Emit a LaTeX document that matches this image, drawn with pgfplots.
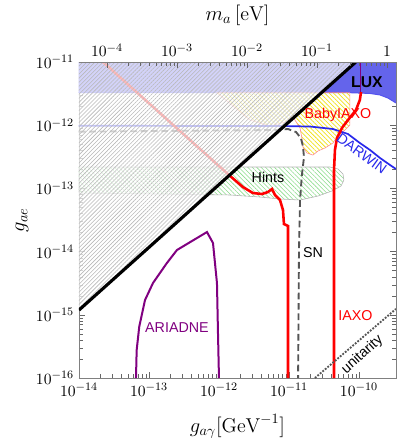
\documentclass[border=0pt]{standalone}
\usepackage{fontspec}
\setsansfont{Liberation Sans}
\usepackage{pgfplots}
\pgfplotsset{compat=1.18}
\usetikzlibrary{patterns.meta}

\definecolor{luxblue}{RGB}{100,100,235}
\definecolor{darwinblue}{RGB}{40,40,235}
\definecolor{sngray}{RGB}{85,85,85}
\definecolor{ariadne}{RGB}{128,0,128}
\definecolor{hintgreen}{RGB}{140,220,140}
\definecolor{babyyellow}{RGB}{240,225,30}

\tikzset{lbl/.style={font=\sffamily\fontsize{10}{12}\selectfont}}

\begin{document}
\begin{tikzpicture}
\pgfplotsset{
  every axis/.append style={
    scale only axis, width=221.9pt, height=221.2pt,
    axis line style={gray}, tick style={gray!80!black},
    ticklabel style={font=\fontsize{11}{13}\selectfont},
    label style={font=\fontsize{14}{16}\selectfont},
  },
}
\begin{axis}[
  xmode=log, ymode=log,
  xmin=1e-14, xmax=3.38e-10, ymin=1e-16, ymax=1e-11,
  xtick pos=bottom,
  xtick={1e-14,1e-13,1e-12,1e-11,1e-10},
  ytick={1e-16,1e-15,1e-14,1e-13,1e-12,1e-11},
  xlabel={$g_{a\gamma}[\mathrm{GeV}^{-1}]$},
  ylabel={$g_{ae}$},
  xlabel style={at={(axis description cs:0.5,0)}, anchor=center, yshift=-34pt},
  ylabel style={at={(axis description cs:0,0.5)}, anchor=center, yshift=39.9pt},
]
% LUX
\addplot[fill=luxblue, draw=none] coordinates {
  (1e-14,3.27e-12) (7.43e-11,3.27e-12) (1.44e-10,3.18e-12) (2.0e-10,3.01e-12)
  (2.6e-10,2.69e-12) (3.38e-10,2.25e-12) (3.38e-10,1e-11) (1e-14,1e-11)} -- cycle;
\addplot[darwinblue!80, line width=0.7pt] coordinates {
  (1e-14,3.27e-12) (7.43e-11,3.27e-12) (1.44e-10,3.18e-12) (2.0e-10,3.01e-12)
  (2.6e-10,2.69e-12) (3.38e-10,2.25e-12)};
% Hints
\addplot[draw=gray!60, line width=0.4pt,
  pattern={Lines[angle=-45,distance=2.2pt,line width=0.4pt]}, pattern color=hintgreen]
  coordinates {
  (1e-14,2.18e-13) (3.85e-11,2.18e-13) (5.01e-11,2.03e-13) (5.91e-11,1.69e-13)
  (6.1e-11,1.36e-13) (5.53e-11,1.09e-13) (4.11e-11,9.10e-14) (2.6e-11,7.58e-14)
  (1.44e-11,6.55e-14) (7.44e-12,6.80e-14) (3.85e-12,7.31e-14) (1.44e-12,7.87e-14)
  (1e-14,8.45e-14)} -- cycle;
% BabyIAXO
\addplot[draw=red!45, line width=0.4pt,
  pattern={Lines[angle=-45,distance=2.2pt,line width=0.5pt]}, pattern color=babyyellow]
  coordinates {
  (9.36e-13,3.27e-12) (2.77e-12,1.21e-12) (5.35e-12,9.70e-13) (8.77e-12,1.12e-12)
  (1.14e-11,1.35e-12) (1.44e-11,9.03e-13) (1.53e-11,6.27e-13) (1.58e-11,4.52e-13)
  (1.81e-11,3.63e-13) (2.20e-11,3.37e-13) (2.6e-11,3.91e-13) (3.27e-11,4.36e-13)
  (4.25e-11,5.23e-13) (4.85e-11,6.50e-13) (6.31e-11,8.40e-13) (7.43e-11,1.01e-12)
  (7.43e-11,3.27e-12)} -- cycle;
% DARWIN
\addplot[darwinblue, line width=1.2pt] coordinates {
  (1e-14,9.8e-13) (8.48e-12,9.70e-13) (2.0e-11,9.53e-13) (4.25e-11,8.71e-13)
  (6.97e-11,7.26e-13) (1.03e-10,5.23e-13) (1.44e-10,4.05e-13) (2.0e-10,3.03e-13)
  (2.77e-10,2.35e-13) (3.38e-10,2.03e-13)};
% SN
\addplot[sngray, line width=1.3pt, dash pattern=on 4.7pt off 2.5pt] coordinates {
  (1e-14,7.9e-13) (6.97e-12,8.40e-13) (9.68e-12,8.71e-13) (1.26e-11,7.80e-13)
  (1.48e-11,6.27e-13) (1.58e-11,4.69e-13) (1.64e-11,3.14e-13) (1.53e-11,1.63e-13)
  (1.44e-11,6.55e-14) (1.39e-11,1.06e-14) (1.35e-11,1e-16)};
% IAXO (low mass branch)
\addplot[red, line width=1.8pt] coordinates {
  (2.2e-14,1e-11) (1.39e-12,1.63e-13) (2.20e-12,1.05e-13) (3.06e-12,8.45e-14)
  (4.11e-12,8.15e-14) (5.01e-12,8.77e-14) (5.72e-12,9.79e-14) (6.31e-12,7.87e-14)
  (7.44e-12,6.55e-14) (8.21e-12,4.55e-14) (8.48e-12,2.73e-14) (9.68e-12,2.54e-14)
  (9.68e-12,1e-16)};
% IAXO (high mass branch)
\addplot[red, line width=1.8pt] coordinates {
  (1.07e-10,3.35e-12) (1.03e-10,2.51e-12) (9.06e-11,1.74e-12) (6.97e-11,1.21e-12)
  (5.71e-11,9.03e-13) (4.85e-11,6.27e-13) (4.54e-11,4.05e-13) (4.40e-11,1.95e-13)
  (4.40e-11,1e-16)};
\addplot[ariadne, line width=1.3pt] coordinates {(1.05e-10,1e-11) (1.05e-10,3.35e-12)};
% ARIADNE
\addplot[ariadne, line width=1.4pt] coordinates {
  (6.52e-14,1e-16) (6.67e-14,2.77e-16) (7.26e-14,6.49e-16) (8.77e-14,1.71e-15)
  (1.14e-13,3.18e-15) (1.79e-13,6.53e-15) (2.51e-13,1.06e-14) (6.74e-13,2.04e-14)
  (8.21e-13,1.37e-14) (9.36e-13,3.18e-15) (9.68e-13,5.15e-16) (1.0e-12,1e-16)};
% excluded region above the diagonal
\addplot[fill=white, fill opacity=0.72, draw=none] coordinates {
  (1e-14,1.19e-15) (9.0e-11,1e-11) (1e-14,1e-11)} -- cycle;
\addplot[draw=none, pattern={Lines[angle=45,distance=2pt,line width=0.4pt]},
  pattern color=gray!55] coordinates {
  (1e-14,1.19e-15) (9.0e-11,1e-11) (1e-14,1e-11)} -- cycle;
\addplot[black, line width=2.2pt] coordinates {(1e-14,1.19e-15) (9.0e-11,1e-11)};
% unitarity
\addplot[sngray, line width=1.3pt, densely dotted] coordinates {(2.35e-11,1e-16) (3.38e-10,1.24e-15)};
% labels
\node[font=\sffamily\bfseries\fontsize{11}{13}\selectfont] at (axis cs:1.30e-10,4.8e-12) {LUX};
\node[lbl, red] at (axis cs:5.01e-11,1.45e-12) {BabyIAXO};
\node[lbl, darwinblue, rotate=-36] at (axis cs:1.10e-10,3.56e-13) {DARWIN};
\node[lbl] at (axis cs:5.01e-12,1.51e-13) {Hints};
\node[lbl] at (axis cs:2.20e-11,9.5e-15) {SN};
\node[lbl, red] at (axis cs:8.9e-11,9.57e-16) {IAXO};
\node[lbl, ariadne] at (axis cs:2.51e-13,6.18e-16) {ARIADNE};
\node[lbl, rotate=42] at (axis cs:1.12e-10,2.35e-16) {unitarity};
\end{axis}
\begin{axis}[
  xmode=log, xmin=3.98e-5, xmax=1.346, ymin=0, ymax=1,
  axis x line*=top, axis y line=none,
  x axis line style={-},
  xtick={1e-4,1e-3,1e-2,1e-1,1},
  xticklabels={$10^{-4}$,$10^{-3}$,$10^{-2}$,$10^{-1}$,$1$},
  xlabel={$m_a\,[\mathrm{eV}]$},
  xlabel style={at={(axis description cs:0.5,1)}, anchor=center, yshift=32.9pt},
]
\end{axis}
\pgfresetboundingbox
\useasboundingbox (-55.3pt,-46.2pt) rectangle (224pt,264.6pt);
\end{tikzpicture}
\end{document}
